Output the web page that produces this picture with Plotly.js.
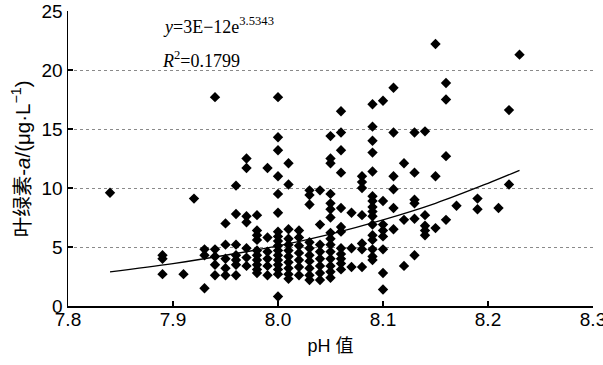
<!DOCTYPE html>
<html>
<head>
<meta charset="utf-8">
<script src="https://cdn.plot.ly/plotly-3.0.1.min.js"></script>
<style>html,body{margin:0;padding:0;background:#fff}#chart{width:603px;height:365px}</style>
</head>
<body>
<div id="chart"></div>
<script>
// pH levels (x) and chlorophyll-a values (y) observed at each level
const phLevels = [7.84, 7.89, 7.91, 7.92, 7.93, 7.94, 7.95, 7.96, 7.97, 7.98, 7.99, 8.00, 8.01, 8.02, 8.03, 8.04, 8.05, 8.06, 8.07, 8.08, 8.09, 8.10, 8.11, 8.12, 8.13, 8.14, 8.15, 8.16, 8.17, 8.19, 8.21, 8.22, 8.23];
const chlByLevel = [
  [9.6],
  [4.3, 4.0, 2.7],
  [2.7],
  [9.1],
  [4.8, 4.3, 1.5],
  [17.7, 4.8, 4.2, 3.5, 2.6],
  [7.0, 5.2, 4.0, 3.2, 2.6],
  [10.2, 7.8, 5.2, 4.3, 3.9, 3.5, 2.6],
  [12.5, 11.7, 7.6, 7.1, 4.9, 4.1, 3.4],
  [7.7, 6.4, 6.0, 5.6, 4.7, 4.3, 3.9, 3.5, 3.1, 2.8],
  [11.7, 5.8, 4.6, 4.0, 3.4, 2.6],
  [17.7, 14.3, 13.2, 11.0, 9.5, 7.9, 6.3, 5.9, 5.5, 5.1, 4.7, 4.3, 3.9, 3.5, 3.1, 2.7, 0.8],
  [12.1, 10.3, 6.5, 5.7, 5.2, 4.7, 4.2, 3.7, 3.2, 2.7, 2.3],
  [6.4, 5.8, 5.1, 4.5, 3.9, 3.3, 2.6],
  [9.8, 9.4, 8.6, 5.4, 4.9, 4.3, 3.8, 3.2, 2.6, 2.2],
  [9.8, 6.9, 5.2, 4.6, 4.0, 3.4, 2.8, 2.2],
  [14.4, 12.5, 12.1, 9.5, 8.7, 8.2, 7.5, 6.2, 5.7, 5.2, 4.6, 4.0, 3.4, 2.9, 2.4],
  [16.5, 14.7, 13.2, 11.3, 8.3, 6.7, 6.3, 4.9, 4.4, 4.0, 3.6, 3.1],
  [7.9, 4.9, 3.3],
  [11.0, 10.5, 10.0, 7.7, 5.3, 4.8, 3.3],
  [17.1, 15.2, 14.0, 13.0, 11.4, 9.3, 8.9, 8.4, 8.0, 7.6, 6.9, 6.0, 5.6, 4.8, 4.2, 3.9],
  [17.4, 8.9, 6.9, 6.4, 5.9, 4.8, 2.8, 1.4],
  [18.5, 14.7, 11.0, 9.9, 8.3, 6.5],
  [12.1, 7.3, 3.4],
  [14.7, 11.3, 9.0, 8.7, 7.4, 4.3],
  [14.8, 7.7, 6.8, 6.4, 6.0],
  [22.2, 11.0, 6.6],
  [18.9, 17.5, 12.7, 7.3],
  [8.5],
  [9.1, 8.2],
  [8.3],
  [16.6, 10.3],
  [21.3]
];
// trend line
const trendX = [7.84, 7.90, 7.95, 8.00, 8.05, 8.10, 8.15, 8.20, 8.23];
const trendY = [2.9, 3.6, 4.3, 5.1, 6.1, 7.3, 8.7, 10.4, 11.5];
// tick labels
const xTickVals = [7.8, 7.9, 8.0, 8.1, 8.2, 8.3];
const xTickText = ['7.8', '7.9', '8.0', '8.1', '8.2', '8.3'];
const yTickVals = [0, 5, 10, 15, 20, 25];

const xs = [], ys = [];
phLevels.forEach((p, i) => chlByLevel[i].forEach(v => { xs.push(p); ys.push(v); }));

const sans = 'Liberation Sans, Arial, Noto Sans CJK SC, sans-serif';
const serif = 'Liberation Serif, Times New Roman, serif';

const data = [
  {x: xs, y: ys, type: 'scatter', mode: 'markers',
   marker: {symbol: 'diamond', size: 8, color: '#000'}, hoverinfo: 'skip'},
  {x: trendX, y: trendY, type: 'scatter', mode: 'lines',
   line: {color: '#000', width: 1.3, shape: 'spline'}, hoverinfo: 'skip'}
];

const layout = {
  width: 603, height: 365,
  margin: {l: 68, r: 10, t: 11, b: 59},
  paper_bgcolor: '#fff', plot_bgcolor: '#fff',
  showlegend: false,
  font: {family: sans, color: '#000', size: 19},
  xaxis: {
    range: [7.8, 8.3], tickvals: xTickVals, ticktext: xTickText,
    showgrid: false, zeroline: false, showline: true, linecolor: '#000', linewidth: 1.5,
    ticks: 'inside', ticklen: 5, tickcolor: '#000', tickwidth: 1.2,
    ticklabeloverflow: 'allow', ticklabelstandoff: -4,
    tickfont: {family: sans, size: 19, color: '#000'},
    title: {text: 'pH 值', font: {family: sans, size: 18, color: '#000'}, standoff: 10}
  },
  yaxis: {
    range: [0, 25], tickvals: yTickVals,
    showgrid: true, gridcolor: '#8a8a8a', gridwidth: 1, griddash: 'dot',
    zeroline: false, showline: true, linecolor: '#000', linewidth: 1.5,
    ticks: 'inside', ticklen: 5, tickcolor: '#000', tickwidth: 1.2,
    tickfont: {family: sans, size: 19, color: '#000'}
  },
  annotations: [
    {xref: 'paper', yref: 'paper', x: -0.09, y: 0.5, xanchor: 'center', yanchor: 'middle',
     textangle: -90, showarrow: false,
     text: '叶绿素-<i>a</i>/(μg·L<sup>−1</sup>)', font: {family: sans, size: 20.5, color: '#000'}},
    {xref: 'paper', yref: 'paper', x: 0.178, y: 0.95, xanchor: 'left', yanchor: 'middle',
     showarrow: false,
     text: '<i>y</i>=3E−12e<sup>3.5343</sup>', font: {family: serif, size: 18, color: '#000'}},
    {xref: 'paper', yref: 'paper', x: 0.175, y: 0.837, xanchor: 'left', yanchor: 'middle',
     showarrow: false,
     text: '<i>R</i><sup>2</sup>=0.1799', font: {family: serif, size: 18, color: '#000'}}
  ]
};

Plotly.newPlot('chart', data, layout, {displayModeBar: false, staticPlot: true});
</script>
</body>
</html>
